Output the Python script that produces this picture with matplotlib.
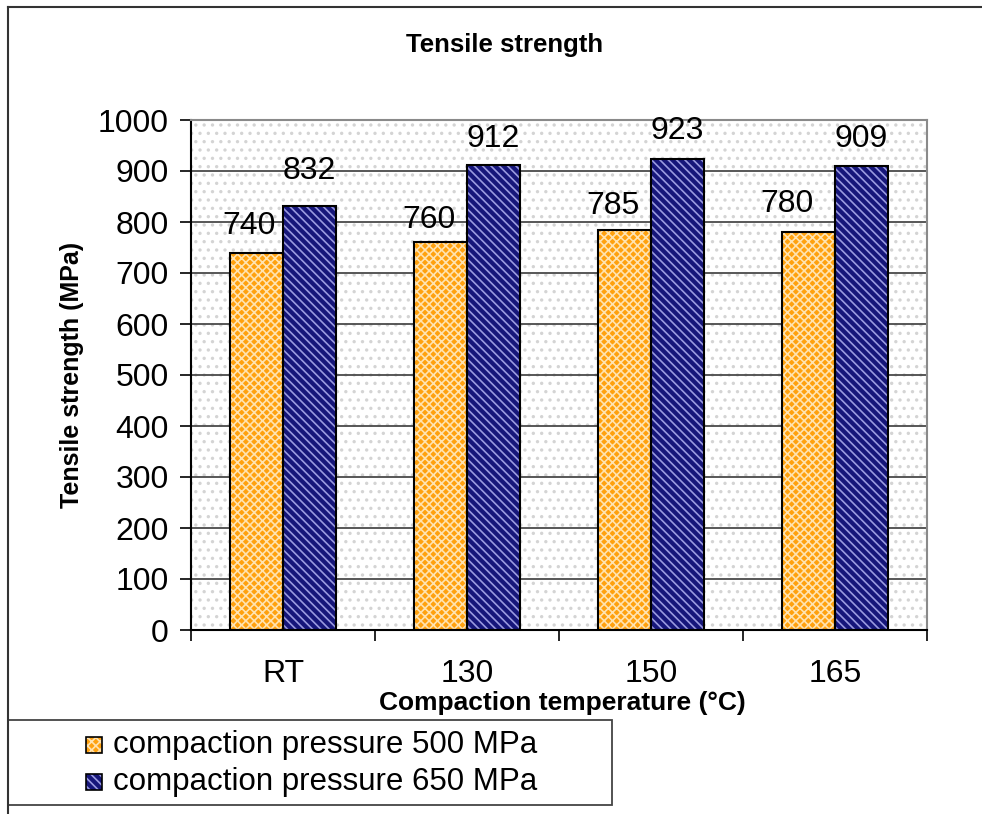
import matplotlib.pyplot as plt
import numpy as np
from matplotlib.patches import Rectangle
from matplotlib.lines import Line2D

plt.rcParams['font.family'] = ['Liberation Sans', 'DejaVu Sans']
plt.rcParams['hatch.linewidth'] = 1.2

categories = ['RT', '130', '150', '165']
p500 = [740, 760, 785, 780]
p650 = [832, 912, 923, 909]
series_names = ['compaction pressure 500 MPa', 'compaction pressure 650 MPa']

# label nudges in pixels (dx, gap above bar) as placed in the original
lab500 = [(-7, 19), (-12, 14), (-12, 16), (-22, 20)]
lab650 = [(0, 27), (0, 18), (0, 20), (0, 19)]

W, H = 982, 814
fig = plt.figure(figsize=(W / 100, H / 100), dpi=100)
ax = fig.add_axes([191 / W, 1 - 630 / H, 736 / W, 510 / H])

# dotted plot-area background
ax.add_patch(Rectangle((0, 0), 1, 1, transform=ax.transAxes, facecolor='white',
                       edgecolor='#d4d4d4', hatch='..', lw=0, zorder=0))
ax.set_axisbelow(True)
ax.yaxis.grid(True, color='#4a4a4a', lw=1.3, zorder=1)

x = np.arange(len(categories))
w = 0.288
orange = '#FFA10E'
navy = '#16167A'
hatch_o, hatch_n = 'xxxx', '\\\\\\\\'


def draw(xs, vals, fc, hc, hatch):
    ax.bar(xs, vals, w, color=fc, edgecolor=hc, hatch=hatch, lw=0, zorder=2)
    ax.bar(xs, vals, w, fill=False, edgecolor='black', lw=1.5, zorder=3)


draw(x - w / 2, p500, orange, '#FFE3B0', hatch_o)
draw(x + w / 2, p650, navy, '#9A9AE0', hatch_n)

for xs, vals, offs in [(x - w / 2, p500, lab500), (x + w / 2, p650, lab650)]:
    for xi, v, (dx, gap) in zip(xs, vals, offs):
        ax.annotate(str(v), (xi, v), xytext=(dx * 0.72, gap * 0.72),
                    textcoords='offset points', ha='center', va='baseline',
                    fontsize=23, zorder=4)

ax.set_xlim(-0.5, len(categories) - 0.5)
ax.set_ylim(0, 1000)
ax.set_yticks(np.arange(0, 1001, 100))
ax.set_xticks(np.arange(-0.5, len(categories), 1))
ax.set_xticklabels([''] * (len(categories) + 1))
ax.set_xticks(x, minor=True)
ax.set_xticklabels(categories, minor=True)
ax.tick_params(axis='x', which='major', length=8, width=1.2, direction='out')
ax.tick_params(axis='x', which='minor', length=0, pad=21, labelsize=23)
ax.tick_params(axis='y', length=8, width=1.2, direction='out', labelsize=23, pad=8)

for s in ['top', 'right']:
    ax.spines[s].set_color('#8a8a8a')
    ax.spines[s].set_linewidth(1.5)
for s in ['left', 'bottom']:
    ax.spines[s].set_color('black')
    ax.spines[s].set_linewidth(1.5)

ax.set_ylabel('Tensile strength (MPa)', fontsize=18, fontweight='bold', labelpad=10)
fig.text(562 / W, 1 - 703 / H, 'Compaction temperature (°C)', ha='center', va='center',
         fontsize=19, fontweight='bold')
fig.text(505 / W, 1 - 45 / H, 'Tensile strength', ha='center', va='center',
         fontsize=18.5, fontweight='bold')

# outer frame lines
fig.add_artist(Line2D([8 / W, 8 / W], [0, 1 - 7 / H], color='#333333', lw=1.5))
fig.add_artist(Line2D([8 / W, 1], [1 - 7 / H, 1 - 7 / H], color='#333333', lw=1.5))

# legend box drawn by hand to match the original layout
fig.add_artist(Rectangle((8 / W, 1 - 805 / H), 604 / W, 85 / H, facecolor='white',
                         edgecolor='#444444', lw=1.3))
for i, (name, fc, hc, hatch) in enumerate([(series_names[0], orange, '#FFE3B0', hatch_o),
                                           (series_names[1], navy, '#9A9AE0', hatch_n)]):
    yc = [745, 782][i]
    fig.add_artist(Rectangle((86 / W, 1 - (yc + 8) / H), 16 / W, 16 / H,
                             facecolor=fc, edgecolor=hc, hatch=hatch, lw=0))
    fig.add_artist(Rectangle((86 / W, 1 - (yc + 8) / H), 16 / W, 16 / H,
                             fill=False, edgecolor='black', lw=1.2))
    fig.text(113 / W, 1 - yc / H, name, ha='left', va='center', fontsize=22.5)

fig.savefig('out.png', dpi=100)
